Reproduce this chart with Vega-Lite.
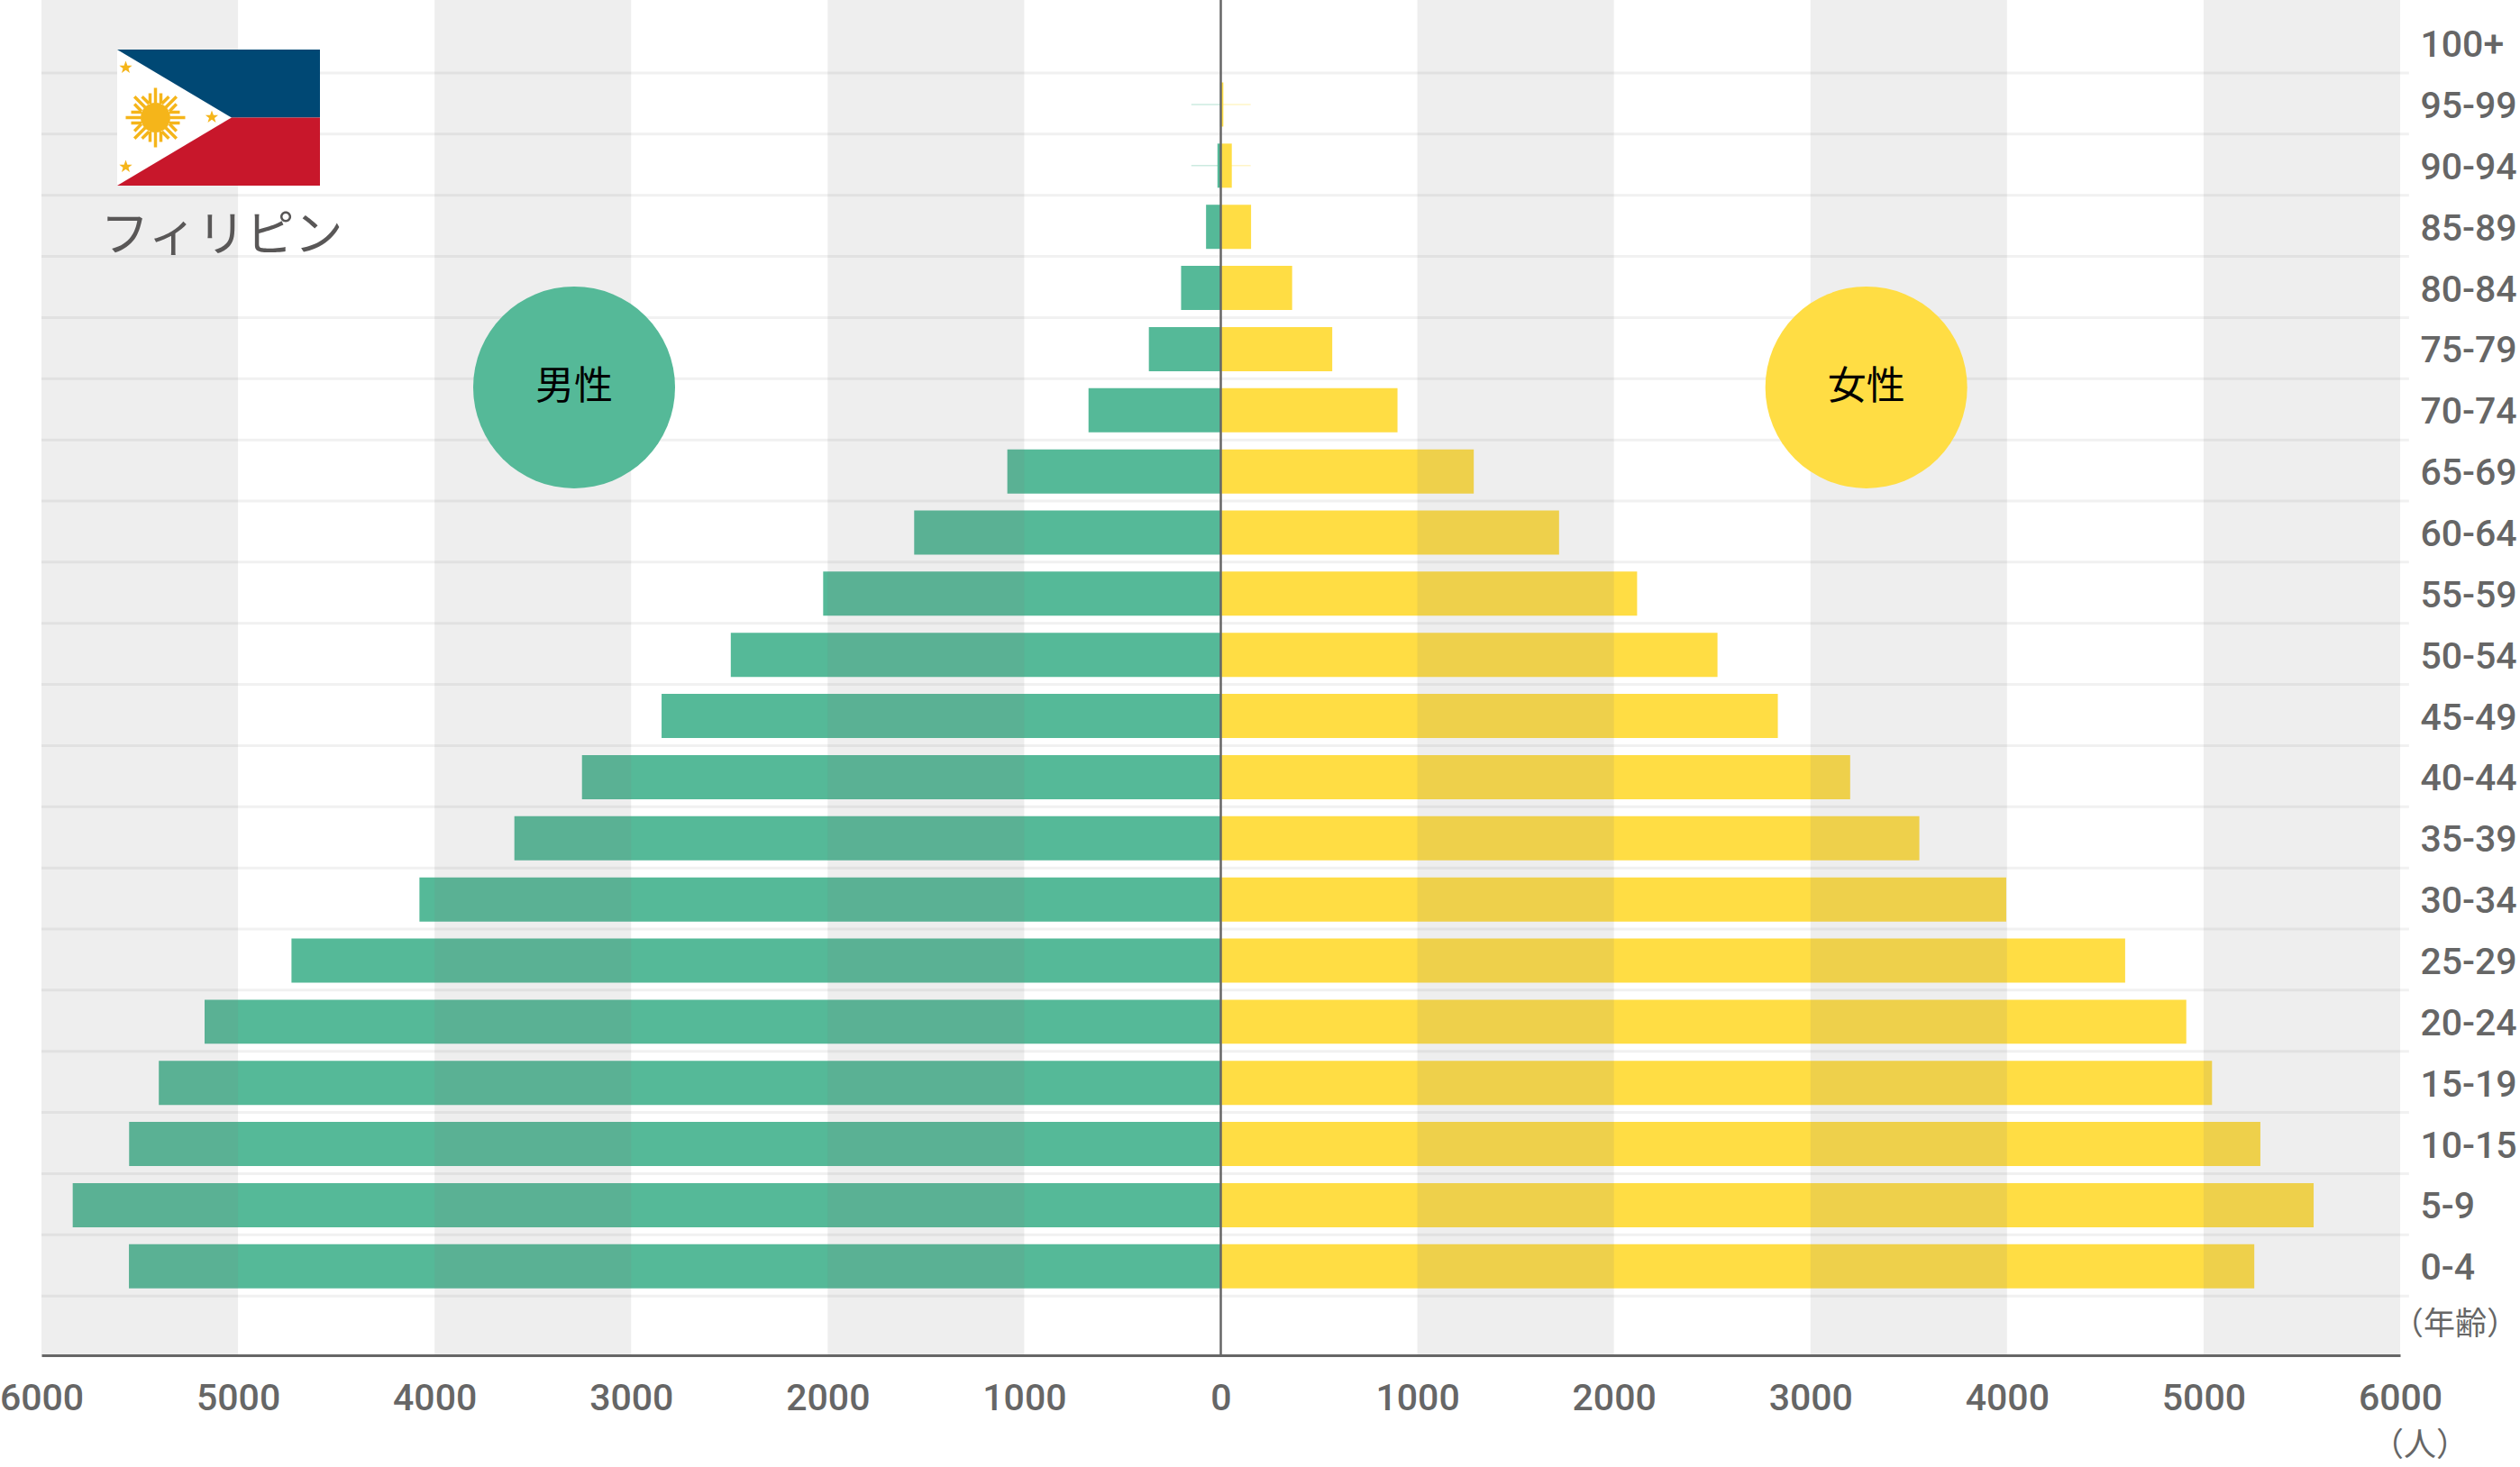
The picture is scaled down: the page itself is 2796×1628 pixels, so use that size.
{
"$schema":"https://vega.github.io/schema/vega-lite/v6.json",
"width":2617,"height":1504,
"autosize":{"type":"none"},
"padding":{"left":46,"top":0,"right":133,"bottom":124},
"background":"white",
"config":{"view":{"stroke":null}},
"datasets":{
"pop":[
{"age":"100+","sex":"男性","value":0},{"age":"100+","sex":"女性","value":0},
{"age":"95-99","sex":"男性","value":-3},{"age":"95-99","sex":"女性","value":13},
{"age":"90-94","sex":"男性","value":-17},{"age":"90-94","sex":"女性","value":56},
{"age":"85-89","sex":"男性","value":-75},{"age":"85-89","sex":"女性","value":154},
{"age":"80-84","sex":"男性","value":-202},{"age":"80-84","sex":"女性","value":363},
{"age":"75-79","sex":"男性","value":-366},{"age":"75-79","sex":"女性","value":567},
{"age":"70-74","sex":"男性","value":-673},{"age":"70-74","sex":"女性","value":899},
{"age":"65-69","sex":"男性","value":-1086},{"age":"65-69","sex":"女性","value":1287},
{"age":"60-64","sex":"男性","value":-1560},{"age":"60-64","sex":"女性","value":1721},
{"age":"55-59","sex":"男性","value":-2023},{"age":"55-59","sex":"女性","value":2118},
{"age":"50-54","sex":"男性","value":-2493},{"age":"50-54","sex":"女性","value":2527},
{"age":"45-49","sex":"男性","value":-2845},{"age":"45-49","sex":"女性","value":2834},
{"age":"40-44","sex":"男性","value":-3250},{"age":"40-44","sex":"女性","value":3202},
{"age":"35-39","sex":"男性","value":-3594},{"age":"35-39","sex":"女性","value":3554},
{"age":"30-34","sex":"男性","value":-4077},{"age":"30-34","sex":"女性","value":3996},
{"age":"25-29","sex":"男性","value":-4728},{"age":"25-29","sex":"女性","value":4601},
{"age":"20-24","sex":"男性","value":-5170},{"age":"20-24","sex":"女性","value":4912},
{"age":"15-19","sex":"男性","value":-5403},{"age":"15-19","sex":"女性","value":5043},
{"age":"10-15","sex":"男性","value":-5554},{"age":"10-15","sex":"女性","value":5289},
{"age":"5-9","sex":"男性","value":-5841},{"age":"5-9","sex":"女性","value":5560},
{"age":"0-4","sex":"男性","value":-5555},{"age":"0-4","sex":"女性","value":5258}
],
"bands":[{"start":-6000,"end":-5000},{"start":-4000,"end":-3000},{"start":-2000,"end":-1000},{"start":1000,"end":2000},{"start":3000,"end":4000},{"start":5000,"end":6000}],
"leaders":[
{"age":"95-99","sex":"男性","value":-150},{"age":"95-99","sex":"女性","value":152},
{"age":"90-94","sex":"男性","value":-150},{"age":"90-94","sex":"女性","value":152}
],
"circles":[{"age":"70-74","sex":"男性","value":-3290},{"age":"70-74","sex":"女性","value":3284}],
"blue":[{"x":0,"y":0,"y2":0},{"x":127,"y":0,"y2":75.5},{"x":225,"y":0,"y2":75.5}],
"red":[{"x":0,"y":151,"y2":151},{"x":127,"y":75.5,"y2":151},{"x":225,"y":75.5,"y2":151}],
"white":[{"x":0,"y":0,"y2":151},{"x":127,"y":75.5,"y2":75.5}],
"rays":[
{"x":42.5,"y":59.5,"x2":42.5,"y2":42.5},{"x":36.5,"y":60,"x2":36.5,"y2":48.5},{"x":48.5,"y":60,"x2":48.5,"y2":48.5},
{"x":42.5,"y":91.5,"x2":42.5,"y2":108.5},{"x":36.5,"y":91,"x2":36.5,"y2":102.5},{"x":48.5,"y":91,"x2":48.5,"y2":102.5},
{"x":26.5,"y":75.5,"x2":9.5,"y2":75.5},{"x":27,"y":69.5,"x2":15.5,"y2":69.5},{"x":27,"y":81.5,"x2":15.5,"y2":81.5},
{"x":58.5,"y":75.5,"x2":75.5,"y2":75.5},{"x":58,"y":69.5,"x2":69.5,"y2":69.5},{"x":58,"y":81.5,"x2":69.5,"y2":81.5},
{"x":53.8,"y":64.2,"x2":65.8,"y2":52.2},{"x":58,"y":68.4,"x2":65.8,"y2":60.6},{"x":49.6,"y":60,"x2":57.4,"y2":52.2},
{"x":31.2,"y":64.2,"x2":19.2,"y2":52.2},{"x":27,"y":68.4,"x2":19.2,"y2":60.6},{"x":35.4,"y":60,"x2":27.6,"y2":52.2},
{"x":53.8,"y":86.8,"x2":65.8,"y2":98.8},{"x":58,"y":82.6,"x2":65.8,"y2":90.4},{"x":49.6,"y":91,"x2":57.4,"y2":98.8},
{"x":31.2,"y":86.8,"x2":19.2,"y2":98.8},{"x":27,"y":82.6,"x2":19.2,"y2":90.4},{"x":35.4,"y":91,"x2":27.6,"y2":98.8}
],
"stars":[{"x":9.5,"y":20},{"x":9.5,"y":130},{"x":105,"y":75}]
},
"resolve":{"scale":{"x":"independent","y":"independent"}},
"layer":[
{
"layer":[
{"data":{"name":"pop"},"transform":[{"filter":"datum.sex=='男性'"}],
 "mark":{"type":"rule","stroke":"#f1f1f1","strokeWidth":3},
 "encoding":{
  "y":{"field":"age","type":"nominal","bandPosition":0.984,
   "scale":{"domain":["100+","95-99","90-94","85-89","80-84","75-79","70-74","65-69","60-64","55-59","50-54","45-49","40-44","35-39","30-34","25-29","20-24","15-19","10-15","5-9","0-4","（年齢）"],"range":[14.2,1507.1]},
   "axis":{"orient":"right","title":null,"domain":false,"ticks":false,"grid":false,"labelPadding":22,"labelOffset":3,"labelAlign":"left","labelBaseline":"middle","labelFont":"Roboto","labelFontSize":41,"labelColor":"#666666","labelFontWeight":500,"labelLimit":0,"zindex":1,
    "values":["100+","95-99","90-94","85-89","80-84","75-79","70-74","65-69","60-64","55-59","50-54","45-49","40-44","35-39","30-34","25-29","20-24","15-19","10-15","5-9","0-4"]}},
  "x":{"datum":-6000,"type":"quantitative","scale":{"domain":[-6000,6000],"nice":false},
   "axis":{"title":null,"orient":"bottom","grid":false,"ticks":false,"domainColor":"#666666","domainWidth":3,"zindex":1,"labelPadding":28,"labelFont":"Roboto","labelFontSize":41,"labelColor":"#666666","labelFontWeight":500,"labelFlush":false,"labelOverlap":false,"labelLimit":0,
    "values":[-6000,-5000,-4000,-3000,-2000,-1000,0,1000,2000,3000,4000,5000,6000],"labelExpr":"abs(datum.value)"}},
  "x2":{"datum":6045}
 }},
{"data":{"name":"leaders"},"mark":{"type":"rule","strokeWidth":1.5,"opacity":0.3},
 "encoding":{"y":{"field":"age","type":"nominal"},"x":{"field":"value","type":"quantitative"},"x2":{"datum":0},
  "color":{"field":"sex","type":"nominal","legend":null,"scale":{"domain":["男性","女性"],"range":["#55B998","#FFDD44"]}}}},
{"data":{"name":"pop"},"mark":{"type":"bar","height":{"band":0.722}},
 "encoding":{"y":{"field":"age","type":"nominal"},"x":{"field":"value","type":"quantitative"},"x2":{"datum":0},
  "color":{"field":"sex","type":"nominal","legend":null}}},
{"data":{"name":"bands"},"mark":{"type":"rect","fill":"#7c7c7c","opacity":0.13},
 "encoding":{"x":{"field":"start","type":"quantitative"},"x2":{"field":"end"}}},
{"data":{"name":"circles"},"mark":{"type":"point","shape":"circle","filled":true,"size":50176,"opacity":1},
 "encoding":{"x":{"field":"value","type":"quantitative"},"y":{"field":"age","type":"nominal","bandPosition":0.127},
  "color":{"field":"sex","type":"nominal","legend":null}}},
{"data":{"name":"circles"},"mark":{"type":"text","font":"Noto Sans CJK JP","fontSize":43,"fill":"#000000","align":"center","baseline":"middle"},
 "encoding":{"x":{"field":"value","type":"quantitative"},"y":{"field":"age","type":"nominal","bandPosition":0.127},"text":{"field":"sex"}}},
{"data":{"values":[{"pos":0}]},"mark":{"type":"rule","stroke":"#666666","strokeWidth":2.5},
 "encoding":{"x":{"field":"pos","type":"quantitative"}}},
{"data":{"values":[{"age":"（年齢）","value":6000,"label":"（年齢）"}]},"mark":{"type":"text","font":"Noto Sans CJK JP","fontSize":35,"fill":"#666666","align":"left","baseline":"middle","dx":-9,"dy":-3},
 "encoding":{"x":{"field":"value","type":"quantitative"},"y":{"field":"age","type":"nominal"},"text":{"field":"label"}}},
{"data":{"values":[{"age":"（年齢）","value":6000,"label":"（人）"}]},"mark":{"type":"text","font":"Noto Sans CJK JP","fontSize":36,"fill":"#666666","align":"center","baseline":"middle","dx":22,"dy":132},
 "encoding":{"x":{"field":"value","type":"quantitative"},"y":{"field":"age","type":"nominal"},"text":{"field":"label"}}}
]
},
{
"layer":[
{"data":{"name":"white"},"mark":{"type":"area","fill":"#ffffff"},
 "encoding":{"x":{"field":"x","type":"quantitative","axis":null,"scale":{"domain":[0,225],"range":[84,309],"nice":false,"zero":false}},
  "y":{"field":"y","type":"quantitative","axis":null,"scale":{"domain":[0,151],"range":[55,206],"nice":false,"zero":false}},"y2":{"field":"y2"}}},
{"data":{"name":"blue"},"mark":{"type":"area","fill":"#004874"},
 "encoding":{"x":{"field":"x","type":"quantitative","axis":null},"y":{"field":"y","type":"quantitative","axis":null},"y2":{"field":"y2"}}},
{"data":{"name":"red"},"mark":{"type":"area","fill":"#C8172B"},
 "encoding":{"x":{"field":"x","type":"quantitative","axis":null},"y":{"field":"y","type":"quantitative","axis":null},"y2":{"field":"y2"}}},
{"data":{"name":"rays"},"mark":{"type":"rule","stroke":"#F5B51A","strokeWidth":3.5},
 "encoding":{"x":{"field":"x","type":"quantitative","axis":null},"y":{"field":"y","type":"quantitative","axis":null},"x2":{"field":"x2"},"y2":{"field":"y2"}}},
{"data":{"values":[{"x":42.5,"y":75.5}]},"mark":{"type":"point","shape":"circle","filled":true,"fill":"#F5B51A","opacity":1,"size":1089},
 "encoding":{"x":{"field":"x","type":"quantitative","axis":null},"y":{"field":"y","type":"quantitative","axis":null}}},
{"data":{"name":"stars"},"mark":{"type":"point","filled":true,"fill":"#F5B51A","opacity":1,"size":225,"shape":"M0,-1L0.25,-0.3L0.95,-0.3L0.4,0.12L0.6,0.8L0,0.38L-0.6,0.8L-0.4,0.12L-0.95,-0.3L-0.25,-0.3Z"},
 "encoding":{"x":{"field":"x","type":"quantitative","axis":null},"y":{"field":"y","type":"quantitative","axis":null}}},
{"data":{"values":[{"x":116,"y":208,"label":"フィリピン"}]},"mark":{"type":"text","font":"Noto Sans CJK JP","fontSize":54,"fontWeight":400,"fill":"#595757","align":"center","baseline":"middle"},
 "encoding":{"x":{"field":"x","type":"quantitative","axis":null},"y":{"field":"y","type":"quantitative","axis":null},"text":{"field":"label"}}}
]
}
]
}
